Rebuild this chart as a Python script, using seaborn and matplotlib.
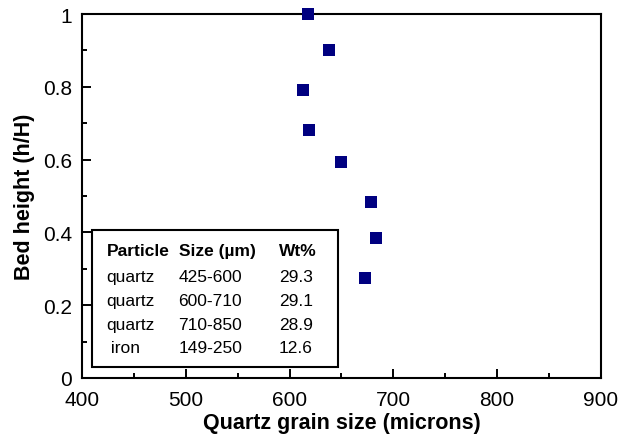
import pandas as pd
import matplotlib
matplotlib.use("Agg")
import matplotlib.pyplot as plt
from matplotlib.patches import Rectangle
from matplotlib.ticker import MultipleLocator, FormatStrFormatter
import seaborn as sns

## data
grain_size = [618, 638, 613, 619, 650, 678, 683, 673]
bed_height = [1.0, 0.90, 0.79, 0.682, 0.593, 0.483, 0.384, 0.274]

table_header = ["Particle", "Size (\u00b5m)", "Wt%"]
particles = ["quartz", "quartz", "quartz", " iron"]
size_ranges = ["425-600", "600-710", "710-850", "149-250"]
weight_pct = ["29.3", "29.1", "28.9", "12.6"]

df = pd.DataFrame({"size": grain_size, "height": bed_height})

sns.set_theme(style="ticks")
plt.rcParams['font.family'] = ['Liberation Sans', 'DejaVu Sans']
plt.rcParams['text.color'] = 'black'
plt.rcParams['axes.labelcolor'] = 'black'

fig = plt.figure(figsize=(6.27, 4.39), dpi=100)
ax = fig.add_axes([0.1308, 0.1367, 0.8277, 0.8291])

sns.scatterplot(data=df, x="size", y="height", marker="s", s=75,
                color="#000080", linewidth=0, ax=ax, zorder=5, clip_on=False)

ax.set_xlim(400, 900)
ax.set_ylim(0, 1)
ax.xaxis.set_major_locator(MultipleLocator(100))
ax.xaxis.set_minor_locator(MultipleLocator(50))
ax.yaxis.set_major_locator(MultipleLocator(0.2))
ax.yaxis.set_minor_locator(MultipleLocator(0.1))
ax.yaxis.set_major_formatter(FormatStrFormatter('%g'))
ax.tick_params(which="major", direction="in", length=6.5, width=1.4,
               labelsize=15, pad=7, color="black", labelcolor="black")
ax.tick_params(which="minor", direction="in", length=3.6, width=1.4, color="black")
ax.tick_params(axis="x", which="major", pad=9)
for sp in ax.spines.values():
    sp.set_visible(True)
    sp.set_linewidth(1.5)
    sp.set_color("black")

ax.set_xlabel("Quartz grain size (microns)", fontsize=15.5, fontweight="bold",
              labelpad=2, color="black")
ax.set_ylabel("Bed height (h/H)", fontsize=15.5, fontweight="bold",
              labelpad=6, color="black")

# composition table box
ax.add_patch(Rectangle((0.019, 0.030), 0.474, 0.377, transform=ax.transAxes,
                       fill=True, facecolor="white", edgecolor="black",
                       linewidth=1.5, zorder=6))
col_x = [0.047, 0.186, 0.379]
row_y = [0.349, 0.280, 0.212, 0.147, 0.083]
for cx, txt in zip(col_x, table_header):
    ax.text(cx, row_y[0], txt, transform=ax.transAxes, fontsize=12.5,
            fontweight="bold", va="center", ha="left", zorder=7, color="black")
for i in range(len(particles)):
    ax.text(col_x[0], row_y[i + 1], particles[i], transform=ax.transAxes,
            fontsize=12.5, va="center", ha="left", zorder=7, color="black")
    ax.text(col_x[1], row_y[i + 1], size_ranges[i], transform=ax.transAxes,
            fontsize=12.5, va="center", ha="left", zorder=7, color="black")
    ax.text(col_x[2], row_y[i + 1], weight_pct[i], transform=ax.transAxes,
            fontsize=12.5, va="center", ha="left", zorder=7, color="black")

fig.savefig("out.png", dpi=100)
